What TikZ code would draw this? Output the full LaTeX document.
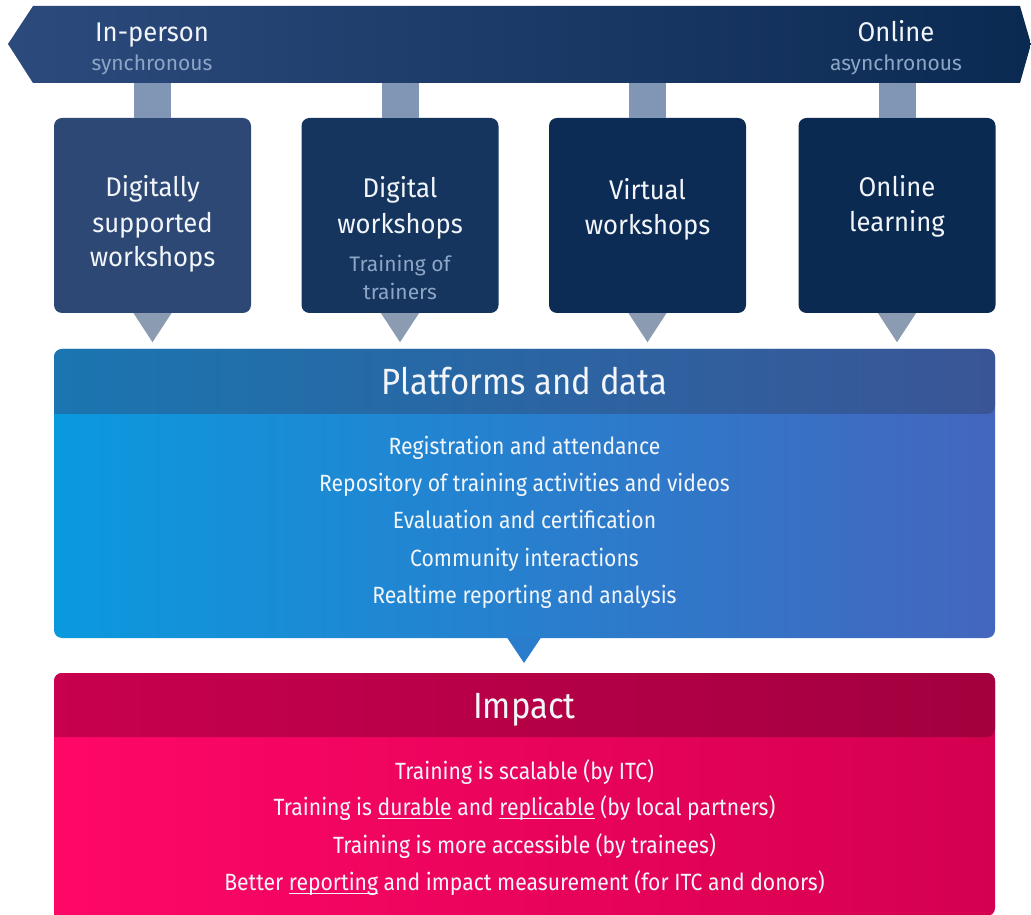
\documentclass[tikz,border=0pt]{standalone}
\usepackage{fontspec}
\setmainfont{Fira Sans}
\newfontfamily\itemfont[FakeStretch=0.9]{Fira Sans}
\newfontfamily\boxfont[FakeStretch=0.95]{Fira Sans}
\usetikzlibrary{calc}

\definecolor{banL}{HTML}{2C4A7C}
\definecolor{banR}{HTML}{0B2A52}
\definecolor{stemc}{HTML}{8196B4}
\definecolor{tric}{HTML}{8A9BB2}
\definecolor{boxA}{HTML}{2D4874}
\definecolor{boxB}{HTML}{15355F}
\definecolor{boxC}{HTML}{0C2C55}
\definecolor{boxD}{HTML}{0A2A52}
\definecolor{subc}{HTML}{8EA6C6}
\definecolor{txtc}{HTML}{F2F6FA}
\definecolor{platHL}{HTML}{1B75B0}
\definecolor{platHR}{HTML}{3A5596}
\definecolor{platBL}{HTML}{0B99DE}
\definecolor{platBR}{HTML}{4466BE}
\definecolor{impHL}{HTML}{C8004E}
\definecolor{impHR}{HTML}{A2003E}
\definecolor{impBL}{HTML}{FF0767}
\definecolor{impBR}{HTML}{D4004F}

% underlined word with a thin rule just under the baseline
\newcommand\ulword[1]{\setbox0\hbox{#1}\rlap{\rule[-3.5pt]{\wd0}{0.9pt}}\box0\relax}

\tikzset{
  modebox/.style={rectangle, rounded corners=8pt, minimum width=197pt,
    minimum height=195pt, inner sep=0pt},
  lbl/.style={text=txtc, anchor=base, inner sep=0pt, font=\boxfont\fontsize{27}{31}\selectfont},
  item/.style={text=txtc, anchor=base, inner sep=0pt, font=\itemfont\fontsize{23.5}{28}\selectfont},
  sublbl/.style={text=subc, anchor=base, inner sep=0pt, font=\fontsize{21}{25}\selectfont},
  title/.style={text=txtc, anchor=base, inner sep=0pt, font=\itemfont\fontsize{36.5}{42}\selectfont},
}

\begin{document}
\begin{tikzpicture}[x=1pt,y=1pt]
\useasboundingbox (0,0) rectangle (1031,914);

% top banner: in-person (left) to online (right)
\shade[left color=banL, right color=banR]
  (8,870) -- (33,908) -- (1020,908) -- (1031,870) -- (1020,831) -- (33,831) -- cycle;
\node[lbl] (inp) at (152,872) {In-person};
\node[sublbl] (sync) at (152,843) {synchronous};
\node[lbl] (onl) at (896,872) {Online};
\node[sublbl] (async) at (896,843) {asynchronous};

% delivery modes
\node[modebox, fill=boxA] (b1) at (152.5,698.5) {};
\node[modebox, fill=boxB] (b2) at (400,698.5) {};
\node[modebox, fill=boxC] (b3) at (647.5,698.5) {};
\node[modebox, fill=boxD] (b4) at (897,698.5) {};

\foreach \b in {b1,b2,b3,b4}{
  \fill[stemc] ($(\b.north)+(-18.5,0)$) rectangle ($(\b.north)+(18.5,35)$);
  \fill[tric] ($(\b.south)+(-19,0)$) -- ($(\b.south)+(19,0)$) -- ($(\b.south)+(0,-29)$) -- cycle;
}

\node[lbl] (b1a) at (152.5,717) {Digitally};
\node[lbl] (b1b) at (152.5,681.5) {supported};
\node[lbl] (b1c) at (152.5,647) {workshops};

\node[lbl] (b2a) at (400,716) {Digital};
\node[lbl] (b2b) at (400,680) {workshops};
\node[sublbl] (b2c) at (400,642) {Training of};
\node[sublbl] (b2d) at (400,614) {trainers};

\node[lbl] (b3a) at (647.5,714) {Virtual};
\node[lbl] (b3b) at (647.5,679) {workshops};

\node[lbl] (b4a) at (897,717) {Online};
\node[lbl] (b4b) at (897,682) {learning};

% platforms and data
\shade[left color=platBL, right color=platBR, rounded corners=8pt]
  (54,276) rectangle (995,565);
\shade[left color=platHL, right color=platHR, rounded corners=8pt]
  (54,500) |- (524,565) -| (995,500) [sharp corners] -- cycle;
\coordinate (plat) at (524,276);
\fill[platBL!45!platBR] ($(plat)+(-17,0.5)$) -- ($(plat)+(17,0.5)$) -- ($(plat)+(0,-25)$) -- cycle;

\node[title] (pt) at (524.5,519) {Platforms and data};
\node[item] (p1) at (524.5,459) {Registration and attendance};
\node[item] (p2) at (524.5,422) {Repository of training activities and videos};
\node[item] (p3) at (524.5,385) {Evaluation and certification};
\node[item] (p4) at (524.5,347) {Community interactions};
\node[item] (p5) at (524.5,310) {Realtime reporting and analysis};

% impact
\shade[left color=impBL, right color=impBR, rounded corners=8pt]
  (54,-2) |- (524,241) -| (995,-2) [sharp corners] -- cycle;
\shade[left color=impHL, right color=impHR, rounded corners=8pt]
  (54,177) |- (524,241) -| (995,177) [sharp corners] -- cycle;

\node[title] (it) at (524.5,196) {Impact};
\node[item] (i1) at (524.5,135) {Training is scalable (by ITC)};
\node[item] (i2) at (524.5,99) {Training is \ulword{durable} and \ulword{replicable} (by local partners)};
\node[item] (i3) at (524.5,61) {Training is more accessible (by trainees)};
\node[item] (i4) at (524.5,24) {Better \ulword{reporting} and impact measurement (for ITC and donors)};
\end{tikzpicture}
\end{document}
